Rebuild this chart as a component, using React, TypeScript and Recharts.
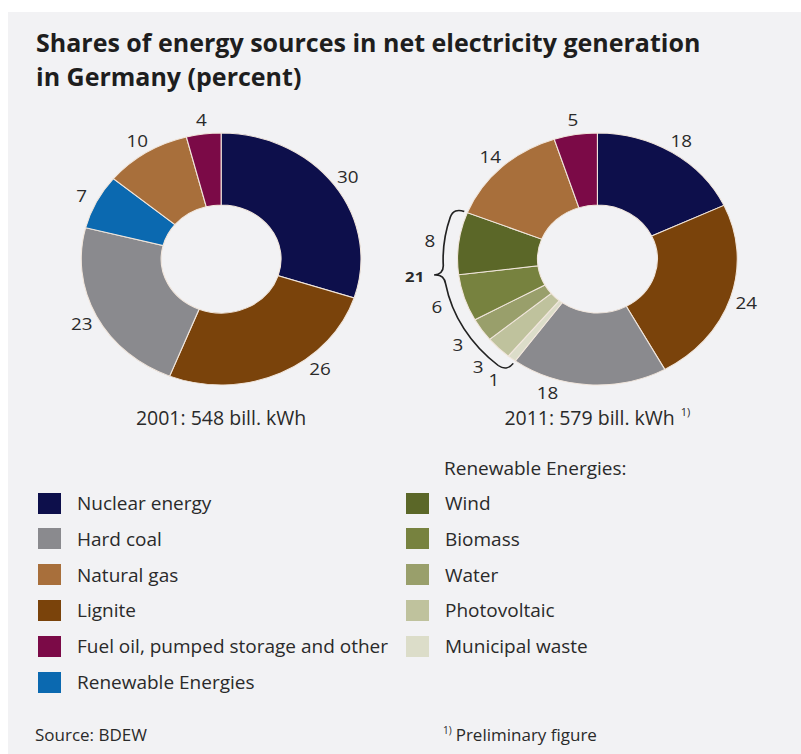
import React from 'react';
import { PieChart, Pie, Cell } from 'recharts';

// ---------- data ----------
const sources2001 = ['Nuclear energy', 'Lignite', 'Hard coal', 'Renewable Energies', 'Natural gas', 'Fuel oil, pumped storage and other'];
const shares2001 = [30, 26, 23, 7, 10, 4];

const sources2011 = ['Nuclear energy', 'Lignite', 'Hard coal', 'Municipal waste', 'Photovoltaic', 'Water', 'Biomass', 'Wind', 'Natural gas', 'Fuel oil, pumped storage and other'];
const shares2011 = [18, 24, 18, 1, 3, 3, 6, 8, 14, 5];
const renewables2011 = ['Municipal waste', 'Photovoltaic', 'Water', 'Biomass', 'Wind'];

const legendMain = ['Nuclear energy', 'Hard coal', 'Natural gas', 'Lignite', 'Fuel oil, pumped storage and other', 'Renewable Energies'];
const legendRenewables = ['Wind', 'Biomass', 'Water', 'Photovoltaic', 'Municipal waste'];

const titleLines = ['Shares of energy sources in net electricity generation', 'in Germany (percent)'];
const captions = ['2001: 548 bill. kWh', '2011: 579 bill. kWh'];
const captionNote = '1)';
const renewablesHeader = 'Renewable Energies:';
const sourceText = 'Source: BDEW';
const footnoteText = 'Preliminary figure';

// ---------- styles ----------
const COLORS: Record<string, string> = {
  'Nuclear energy': '#0d0f4b',
  'Hard coal': '#8a8a8e',
  'Natural gas': '#a86f3b',
  'Lignite': '#7a430b',
  'Fuel oil, pumped storage and other': '#7b0a47',
  'Renewable Energies': '#0b69b0',
  'Wind': '#5b6728',
  'Biomass': '#77823f',
  'Water': '#999f6b',
  'Photovoltaic': '#bfc29d',
  'Municipal waste': '#dcddc9',
};
// label placement tweaks (degrees), as in the printed chart
const NUDGE_2001: Record<string, number> = { 'Lignite': 14 };
const NUDGE_2011: Record<string, number> = { 'Hard coal': -15 };
const BRACE_POINT_SHIFT = 10;

const BG = '#f2f2f4';
const TEXT = '#2a2a2a';
const FONT = "'Open Sans', 'Noto Sans', sans-serif";
const SX = 1.11;
const CHART_W = 714;
const CHART_H = 440;
const CY = 247;
const CX1 = 192;
const CX2 = 531;
const INNER = 54;
const OUTER = 126;
const RAD = Math.PI / 180;

const data2001 = sources2001.map((name, i) => ({ name, value: shares2001[i] }));
const data2011 = sources2011.map((name, i) => ({ name, value: shares2011[i], renewable: renewables2011.includes(name) }));
const groups2011: { name: string; value: number; renewable: boolean }[] = [];
data2011.forEach((d) => {
  const last = groups2011[groups2011.length - 1];
  if (last && last.renewable === d.renewable) last.value += d.value;
  else groups2011.push({ name: d.renewable ? 'Renewable Energies' : 'Other', value: d.value, renewable: d.renewable });
});

const pol = (cx: number, cy: number, r: number, a: number) => [cx + r * Math.cos(-a * RAD), cy + r * Math.sin(-a * RAD)];

const makeLabel = (names: string[], values: number[], isRen: (i: number) => boolean, nudge: Record<string, number>) => (props: any) => {
  const { cx, cy, midAngle, outerRadius, index } = props;
  const r = outerRadius + (isRen(index) ? 26 : 15);
  const [x, y] = pol(cx, cy, r, midAngle + (nudge[names[index]] || 0));
  return (
    <text key={`l-${index}`} x={x} y={y} textAnchor="middle" dominantBaseline="central" fontSize={17} fill={TEXT} fontFamily={FONT}>
      {values[index]}
    </text>
  );
};

const label2001 = makeLabel(sources2001, shares2001, () => false, NUDGE_2001);
const label2011 = makeLabel(sources2011, shares2011, (i) => data2011[i].renewable, NUDGE_2011);

const braceLabel = (props: any) => {
  const { cx, cy, startAngle, endAngle, midAngle, outerRadius, index } = props;
  const g = groups2011[index];
  if (!g || !g.renewable) return <g key={`b-${index}`} />;
  const base = outerRadius - 1;
  const R1 = base + 3;
  const R2 = base + 13;
  const R3 = base + 22;
  const dir = endAngle < startAngle ? -1 : 1;
  const sweep = dir < 0 ? 1 : 0;
  const d = 4;
  const m = midAngle + dir * BRACE_POINT_SHIFT;
  const p = (r: number, a: number) => pol(cx, cy, r, a).map((v) => v.toFixed(2)).join(' ');
  const path = [
    `M ${p(R1, startAngle)}`,
    `Q ${p(R2, startAngle)} ${p(R2, startAngle + dir * d)}`,
    `A ${R2} ${R2} 0 0 ${sweep} ${p(R2, m - dir * d)}`,
    `Q ${p(R2, m)} ${p(R3, m)}`,
    `Q ${p(R2, m)} ${p(R2, m + dir * d)}`,
    `A ${R2} ${R2} 0 0 ${sweep} ${p(R2, endAngle - dir * d)}`,
    `Q ${p(R2, endAngle)} ${p(R1, endAngle)}`,
  ].join(' ');
  const [tx, ty] = pol(cx, cy, R3 + 9, m);
  return (
    <g key={`b-${index}`}>
      <path d={path} fill="none" stroke="#222" strokeWidth={1.5} />
      <text x={tx} y={ty} textAnchor="end" dominantBaseline="central" fontSize={15} fontWeight={700} fill={TEXT} fontFamily={FONT}>
        {g.value}
      </text>
    </g>
  );
};

const LegendRow = ({ name, x, y }: { name: string; x: number; y: number }) => (
  <div style={{ position: 'absolute', left: x, top: y - 11, height: 22, display: 'flex', alignItems: 'center' }}>
    <div style={{ width: 23, height: 21, background: COLORS[name] }} />
    <div style={{ marginLeft: 16, fontSize: 19, color: TEXT, fontFamily: FONT, whiteSpace: 'nowrap', lineHeight: '22px' }}>{name}</div>
  </div>
);

export default function App() {
  const rowY = (i: number) => 491 + i * 35.8;
  return (
    <div style={{ position: 'absolute', left: 8, top: 12, width: 793, height: 742, background: BG, overflow: 'hidden', fontFamily: FONT }}>
      <div style={{ position: 'absolute', left: 28, top: 13, fontSize: 25, fontWeight: 700, color: '#1e1e1e', lineHeight: '34px', whiteSpace: 'nowrap' }}>
        {titleLines.map((t) => (
          <div key={t}>{t}</div>
        ))}
      </div>

      <div style={{ position: 'absolute', left: 0, top: 0, width: CHART_W, height: CHART_H, transform: `scaleX(${SX})`, transformOrigin: '0 0' }}>
        <PieChart width={CHART_W} height={CHART_H} margin={{ top: 0, right: 0, bottom: 0, left: 0 }}>
          <Pie data={data2001} dataKey="value" nameKey="name" cx={CX1} cy={CY} innerRadius={INNER} outerRadius={OUTER} startAngle={90} endAngle={-270} stroke="#f1e6dc" strokeWidth={1} label={label2001} labelLine={false} isAnimationActive={false}>
            {data2001.map((d) => (
              <Cell key={d.name} fill={COLORS[d.name]} />
            ))}
          </Pie>
          <Pie data={data2011} dataKey="value" nameKey="name" cx={CX2} cy={CY} innerRadius={INNER} outerRadius={OUTER} startAngle={90} endAngle={-270} stroke="#f1e6dc" strokeWidth={1} label={label2011} labelLine={false} isAnimationActive={false}>
            {data2011.map((d) => (
              <Cell key={d.name} fill={COLORS[d.name]} />
            ))}
          </Pie>
          <Pie data={groups2011} dataKey="value" nameKey="name" cx={CX2} cy={CY} innerRadius={OUTER} outerRadius={OUTER + 1} startAngle={90} endAngle={-270} fill="none" stroke="none" label={braceLabel} labelLine={false} isAnimationActive={false}>
            {groups2011.map((d, i) => (
              <Cell key={i} fill="none" stroke="none" />
            ))}
          </Pie>
        </PieChart>
      </div>

      <div style={{ position: 'absolute', left: CX1 * SX - 150, width: 300, top: 393, textAlign: 'center', fontSize: 19.5, color: TEXT, lineHeight: '26px' }}>
        {captions[0]}
      </div>
      <div style={{ position: 'absolute', left: CX2 * SX - 150, width: 300, top: 393, textAlign: 'center', fontSize: 19.5, color: TEXT, lineHeight: '26px' }}>
        {captions[1]}
        <span style={{ fontSize: 11, position: 'relative', top: -9, marginLeft: 6 }}>{captionNote}</span>
      </div>

      <div style={{ position: 'absolute', left: 436, top: 444, fontSize: 19, color: TEXT, lineHeight: '24px', whiteSpace: 'nowrap' }}>{renewablesHeader}</div>

      {legendMain.map((n, i) => (
        <LegendRow key={n} name={n} x={30} y={rowY(i)} />
      ))}
      {legendRenewables.map((n, i) => (
        <LegendRow key={n} name={n} x={398} y={rowY(i)} />
      ))}

      <div style={{ position: 'absolute', left: 27, top: 711, fontSize: 17, color: TEXT, lineHeight: '24px', whiteSpace: 'nowrap' }}>{sourceText}</div>
      <div style={{ position: 'absolute', left: 435, top: 711, fontSize: 17, color: TEXT, lineHeight: '24px', whiteSpace: 'nowrap' }}>
        <span style={{ fontSize: 10, position: 'relative', top: -7, marginRight: 4 }}>{captionNote}</span>
        {footnoteText}
      </div>
    </div>
  );
}
